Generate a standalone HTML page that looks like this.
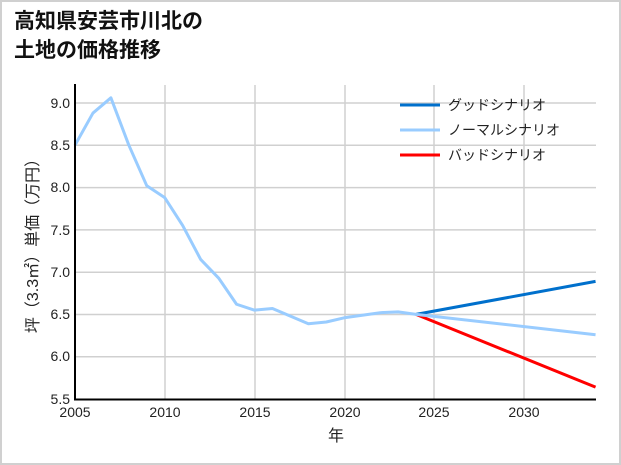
<!DOCTYPE html>
<html><head><meta charset="utf-8"><style>
html,body{margin:0;padding:0;background:#fff}
body{width:621px;height:465px;position:relative;overflow:hidden;font-family:"Liberation Sans","Noto Sans CJK JP",sans-serif}
.frame{position:absolute;left:0;top:0;width:617px;height:461px;border:2px solid #d0d0d0}
.title{position:absolute;left:14px;top:7px;font-size:21px;font-weight:bold;line-height:29px;color:#111}
</style></head><body>
<div class="frame"></div>
<div class="title">高知県安芸市川北の<br>土地の価格推移</div>
<svg width="621" height="465" style="position:absolute;left:0;top:0" font-family="Liberation Sans, Noto Sans CJK JP, sans-serif">
<g stroke="#d0d0d0" stroke-width="1.5">
<line x1="165" y1="85" x2="165" y2="399"/><line x1="255" y1="85" x2="255" y2="399"/>
<line x1="345" y1="85" x2="345" y2="399"/><line x1="434" y1="85" x2="434" y2="399"/>
<line x1="524" y1="85" x2="524" y2="399"/>
<line x1="75" y1="103" x2="596" y2="103"/><line x1="75" y1="145.3" x2="596" y2="145.3"/>
<line x1="75" y1="187.6" x2="596" y2="187.6"/><line x1="75" y1="229.9" x2="596" y2="229.9"/>
<line x1="75" y1="272.2" x2="596" y2="272.2"/><line x1="75" y1="314.5" x2="596" y2="314.5"/>
<line x1="75" y1="356.8" x2="596" y2="356.8"/>
</g>
<g fill="none" stroke-width="3" stroke-linejoin="round" transform="matrix(17.95,0,0,-84.6,-35914.75,864.3)">
<polyline vector-effect="non-scaling-stroke" stroke="#0070cc" points="2024,6.5 2034,6.89"/>
<polyline vector-effect="non-scaling-stroke" stroke="#ff0000" points="2024,6.5 2034,5.64"/>
<polyline vector-effect="non-scaling-stroke" stroke="#99ccff" points="2005,8.5 2006,8.88 2007,9.06 2008,8.5 2009,8.02 2010,7.88 2011,7.55 2012,7.15 2013,6.93 2014,6.62 2015,6.55 2016,6.57 2017,6.48 2018,6.39 2019,6.41 2020,6.46 2021,6.49 2022,6.52 2023,6.53 2024,6.5 2034,6.26"/>
</g>
<line x1="75" y1="84" x2="75" y2="400" stroke="#000" stroke-width="2"/>
<line x1="74" y1="399.5" x2="596" y2="399.5" stroke="#000" stroke-width="2"/>
<g font-size="14" fill="#222" text-anchor="end">
<text x="70" y="108">9.0</text><text x="70" y="150">8.5</text><text x="70" y="192">8.0</text>
<text x="70" y="235">7.5</text><text x="70" y="277">7.0</text><text x="70" y="319">6.5</text>
<text x="70" y="361">6.0</text><text x="70" y="404">5.5</text>
</g>
<g font-size="14" fill="#222" text-anchor="middle">
<text x="75" y="417">2005</text><text x="165" y="417">2010</text><text x="255" y="417">2015</text>
<text x="345" y="417">2020</text><text x="434" y="417">2025</text><text x="524" y="417">2030</text>
<text x="336" y="441" font-size="16">年</text>
</g>
<text transform="translate(38,242) rotate(-90)" font-size="16" fill="#222" text-anchor="middle">坪（3.3㎡）単価（万円）</text>
<g stroke-width="3">
<line x1="400" y1="105" x2="440" y2="105" stroke="#0070cc"/>
<line x1="400" y1="130" x2="440" y2="130" stroke="#99ccff"/>
<line x1="400" y1="155" x2="440" y2="155" stroke="#ff0000"/>
</g>
<g font-size="14" fill="#222">
<text x="448" y="110">グッドシナリオ</text>
<text x="448" y="135">ノーマルシナリオ</text>
<text x="448" y="160">バッドシナリオ</text>
</g>
</svg>
</body></html>
